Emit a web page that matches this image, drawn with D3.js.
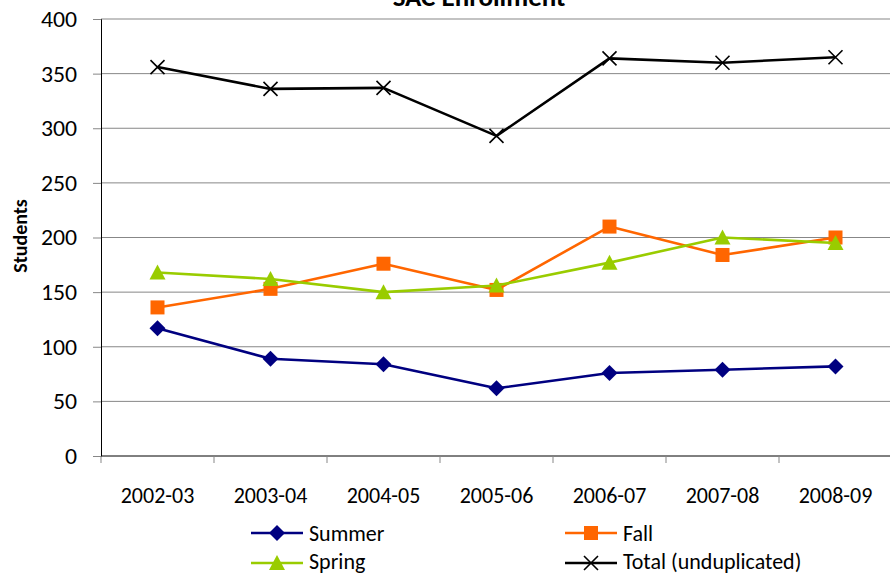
<!DOCTYPE html>
<html><head><meta charset="utf-8">
<script src="https://cdn.jsdelivr.net/npm/d3@7"></script>
<style>body{margin:0;background:#fff;} svg{display:block;font-family:Carlito,Calibri,"Open Sans",sans-serif;}</style>
</head><body><svg id="c" width="890" height="576"></svg>
<script>
const categories = ["2002-03","2003-04","2004-05","2005-06","2006-07","2007-08","2008-09"];
const summer = [117, 89, 84, 62, 76, 79, 82];
const fall = [136, 153, 176, 152, 210, 184, 200];
const spring = [168, 162, 150, 156, 177, 200, 195];
const total = [356, 336, 337, 293, 364, 360, 365];
const yTicks = [0,50,100,150,200,250,300,350,400];

const series = [
  {name:"Summer", values:summer, color:"#000080", marker:"diamond"},
  {name:"Fall", values:fall, color:"#FF6600", marker:"square"},
  {name:"Spring", values:spring, color:"#99CC00", marker:"triangle"},
  {name:"Total (unduplicated)", values:total, color:"#000000", marker:"x"}
];

const FF = "Carlito,Calibri,'Open Sans',sans-serif";
const svg = d3.select("#c");
const L = 101, R = 892, T = 19, B = 456;
const x = d3.scaleBand().domain(categories).range([L, R]);
const y = d3.scaleLinear().domain([0,400]).range([B, T]);

// gridlines
svg.append("g").selectAll("line").data(yTicks.filter(d=>d>0)).join("line")
  .attr("x1", L).attr("x2", 890).attr("y1", d=>y(d)).attr("y2", d=>y(d))
  .attr("stroke", "#878787").attr("stroke-width", 1);

// y axis
const yAxis = svg.append("g").attr("transform", `translate(${L},0)`)
  .call(d3.axisLeft(y).tickValues(yTicks).tickSize(8).tickPadding(16));
yAxis.select(".domain").attr("stroke", "#000");
yAxis.selectAll(".tick line").attr("stroke", "#878787");
yAxis.selectAll(".tick text").attr("font-size", 22).attr("fill", "#000")
  .style("font-family", FF).attr("dy", "0.34em")
  .attr("transform", "scale(1.08,1)").attr("x", -24/1.08);

// x axis
const xAxis = svg.append("g").attr("transform", `translate(0,${B})`)
  .call(d3.axisBottom(x).tickSize(0).tickPadding(0));
xAxis.select(".domain").attr("stroke", "#000").attr("d", `M${L},0H890`);
xAxis.selectAll(".tick text").attr("font-size", 22).attr("fill", "#000")
  .style("font-family", FF).attr("dy", 0).attr("y", 47);
svg.append("g").selectAll("line").data(categories).join("line")
  .attr("x1", d=>x(d)).attr("x2", d=>x(d)).attr("y1", B).attr("y2", B+7)
  .attr("stroke", "#878787");

// title
svg.append("text").attr("x", 479).attr("y", 6).attr("text-anchor","middle")
  .attr("font-size", 27).attr("font-weight","bold").text("SAC Enrollment");
// y label
svg.append("text").attr("transform","translate(27,236) rotate(-90)")
  .attr("text-anchor","middle").attr("font-size",20).attr("font-weight","bold").text("Students");

const cx = d => x(d) + x.bandwidth()/2;
function drawMarker(g, type, color, px, py){
  if(type==="diamond"){
    g.append("path").attr("d",`M${px},${py-8}L${px+8},${py}L${px},${py+8}L${px-8},${py}Z`).attr("fill", color);
  } else if(type==="square"){
    g.append("rect").attr("x",px-7).attr("y",py-7).attr("width",14).attr("height",14).attr("fill",color);
  } else if(type==="triangle"){
    g.append("path").attr("d",`M${px},${py-8}L${px+8},${py+7}L${px-8},${py+7}Z`).attr("fill",color);
  } else {
    g.append("path").attr("d",`M${px-7},${py-7}L${px+7},${py+7}M${px-7},${py+7}L${px+7},${py-7}`)
      .attr("stroke",color).attr("stroke-width",1.6).attr("fill","none");
  }
}
const line = d3.line().x((d,i)=>cx(categories[i])).y(d=>y(d));
const order = [series[3], series[1], series[2], series[0]];
order.forEach(s=>{
  const g = svg.append("g");
  g.append("path").datum(s.values).attr("d", line).attr("fill","none")
    .attr("stroke", s.color).attr("stroke-width", 2.6).attr("stroke-linejoin","round");
  s.values.forEach((v,i)=>drawMarker(g, s.marker, s.color, cx(categories[i]), y(v)));
});

// legend
const legPos = [[251,533],[565,533],[251,563],[565,563]];
series.forEach((s,i)=>{
  const [lx,ly] = legPos[i];
  const g = svg.append("g");
  g.append("line").attr("x1",lx).attr("x2",lx+52).attr("y1",ly).attr("y2",ly)
    .attr("stroke",s.color).attr("stroke-width",2.6);
  drawMarker(g, s.marker, s.color, lx+26, ly);
  g.append("text").attr("x",lx+58).attr("y",ly+ (i<2 ? 8 : 6)).attr("font-size",22).text(s.name);
});
</script></body></html>
